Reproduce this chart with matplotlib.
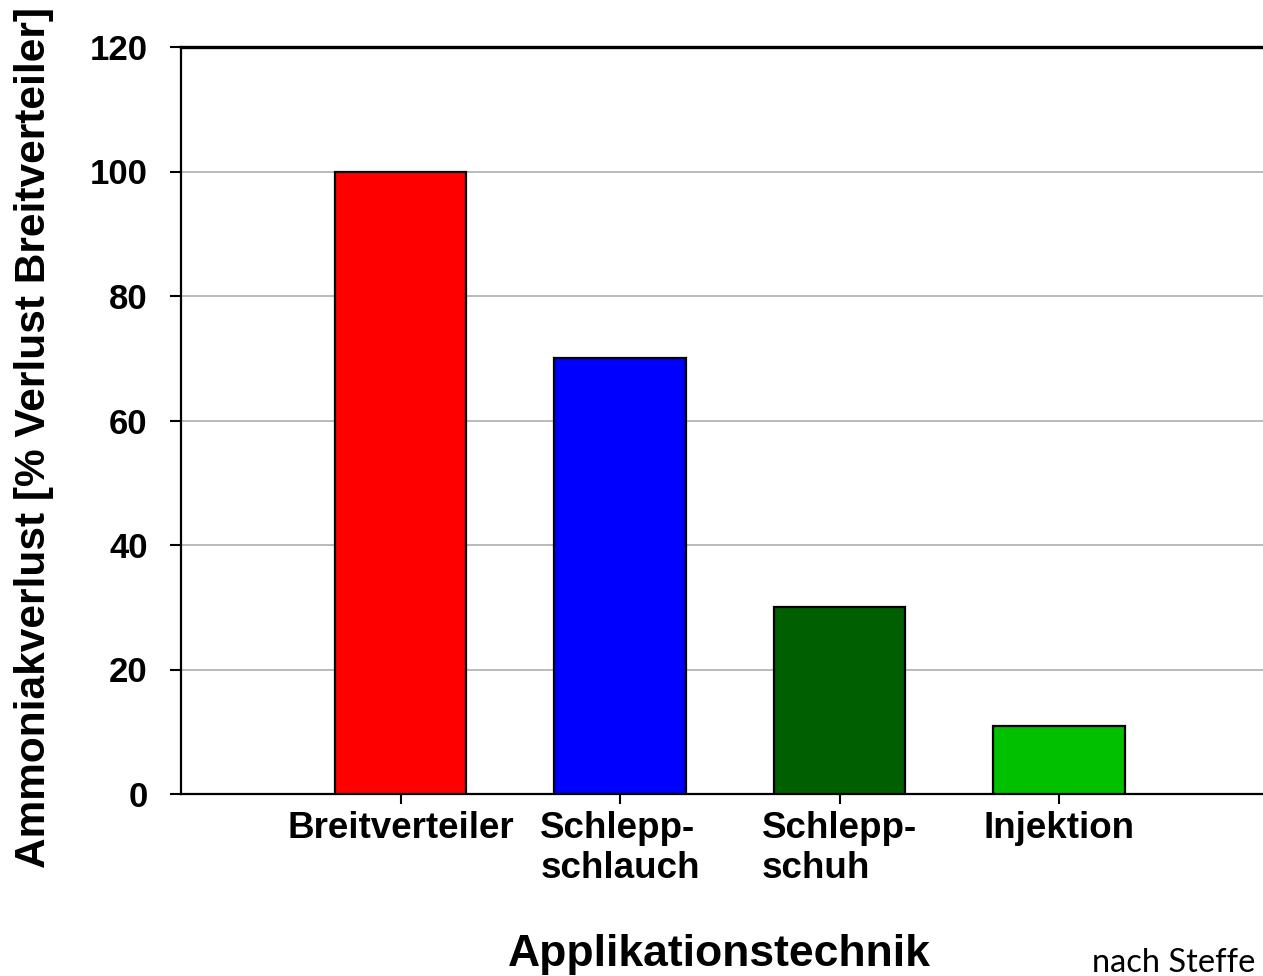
import numpy as np
import matplotlib
matplotlib.use("Agg")
import matplotlib.pyplot as plt

# data
categories = ["Breitverteiler", "Schlepp-\nschlauch", "Schlepp-\nschuh", "Injektion"]
values = [100, 70, 30, 11]
bar_colors = ["#ff0000", "#0000ff", "#005f00", "#00c000"]
y_ticks = [0, 20, 40, 60, 80, 100, 120]

plt.rcParams["font.family"] = ["Liberation Sans", "DejaVu Sans"]
plt.rcParams["font.weight"] = "bold"

fig = plt.figure(figsize=(12.63, 9.76), dpi=100)
# axes run a bit past the right edge like in the original
ax = fig.add_axes([181 / 1263, 1 - 794 / 976, 1097.5 / 1263, 747 / 976])

x = np.arange(1, len(categories) + 1)
ax.bar(x, values, width=0.6, color=bar_colors, edgecolor="black", linewidth=1.6, zorder=3)

ax.set_xlim(0, 5)
ax.set_ylim(0, 120)
ax.set_yticks(y_ticks)
ax.set_xticks(x)
ax.set_xticklabels(categories, fontsize=26.5, fontweight="bold", multialignment="left",
                   linespacing=1.2)
ax.tick_params(axis="x", direction="out", length=7, width=1.5, pad=5)
ax.tick_params(axis="y", direction="out", length=8, width=1.5, pad=16, labelsize=25)
for lab in ax.get_yticklabels():
    lab.set_fontweight("bold")

ax.yaxis.grid(True, color="#b4b4b4", linewidth=1.3, zorder=0)
ax.set_axisbelow(True)

for side in ["left", "bottom"]:
    ax.spines[side].set_linewidth(1.6)
ax.spines["top"].set_linewidth(2.4)
ax.spines["right"].set_visible(False)

ax.set_ylabel("Ammoniakverlust [% Verlust Breitverteiler]", fontsize=30.5,
              fontweight="bold", va="center")
ax.yaxis.set_label_coords(-147 / 1097.5, (794 - 437) / 747)

ax.set_xlabel("Applikationstechnik", fontsize=32, fontweight="bold", va="baseline")
ax.xaxis.set_label_coords((719 - 181) / 1097.5, (794 - 966) / 747)

fig.text(1092 / 1263, 1 - 972 / 976, "nach Steffe", fontsize=23.5, fontweight="normal",
         family=["Lato", "DejaVu Sans"], ha="left", va="baseline")

fig.savefig("out.png", dpi=100)
